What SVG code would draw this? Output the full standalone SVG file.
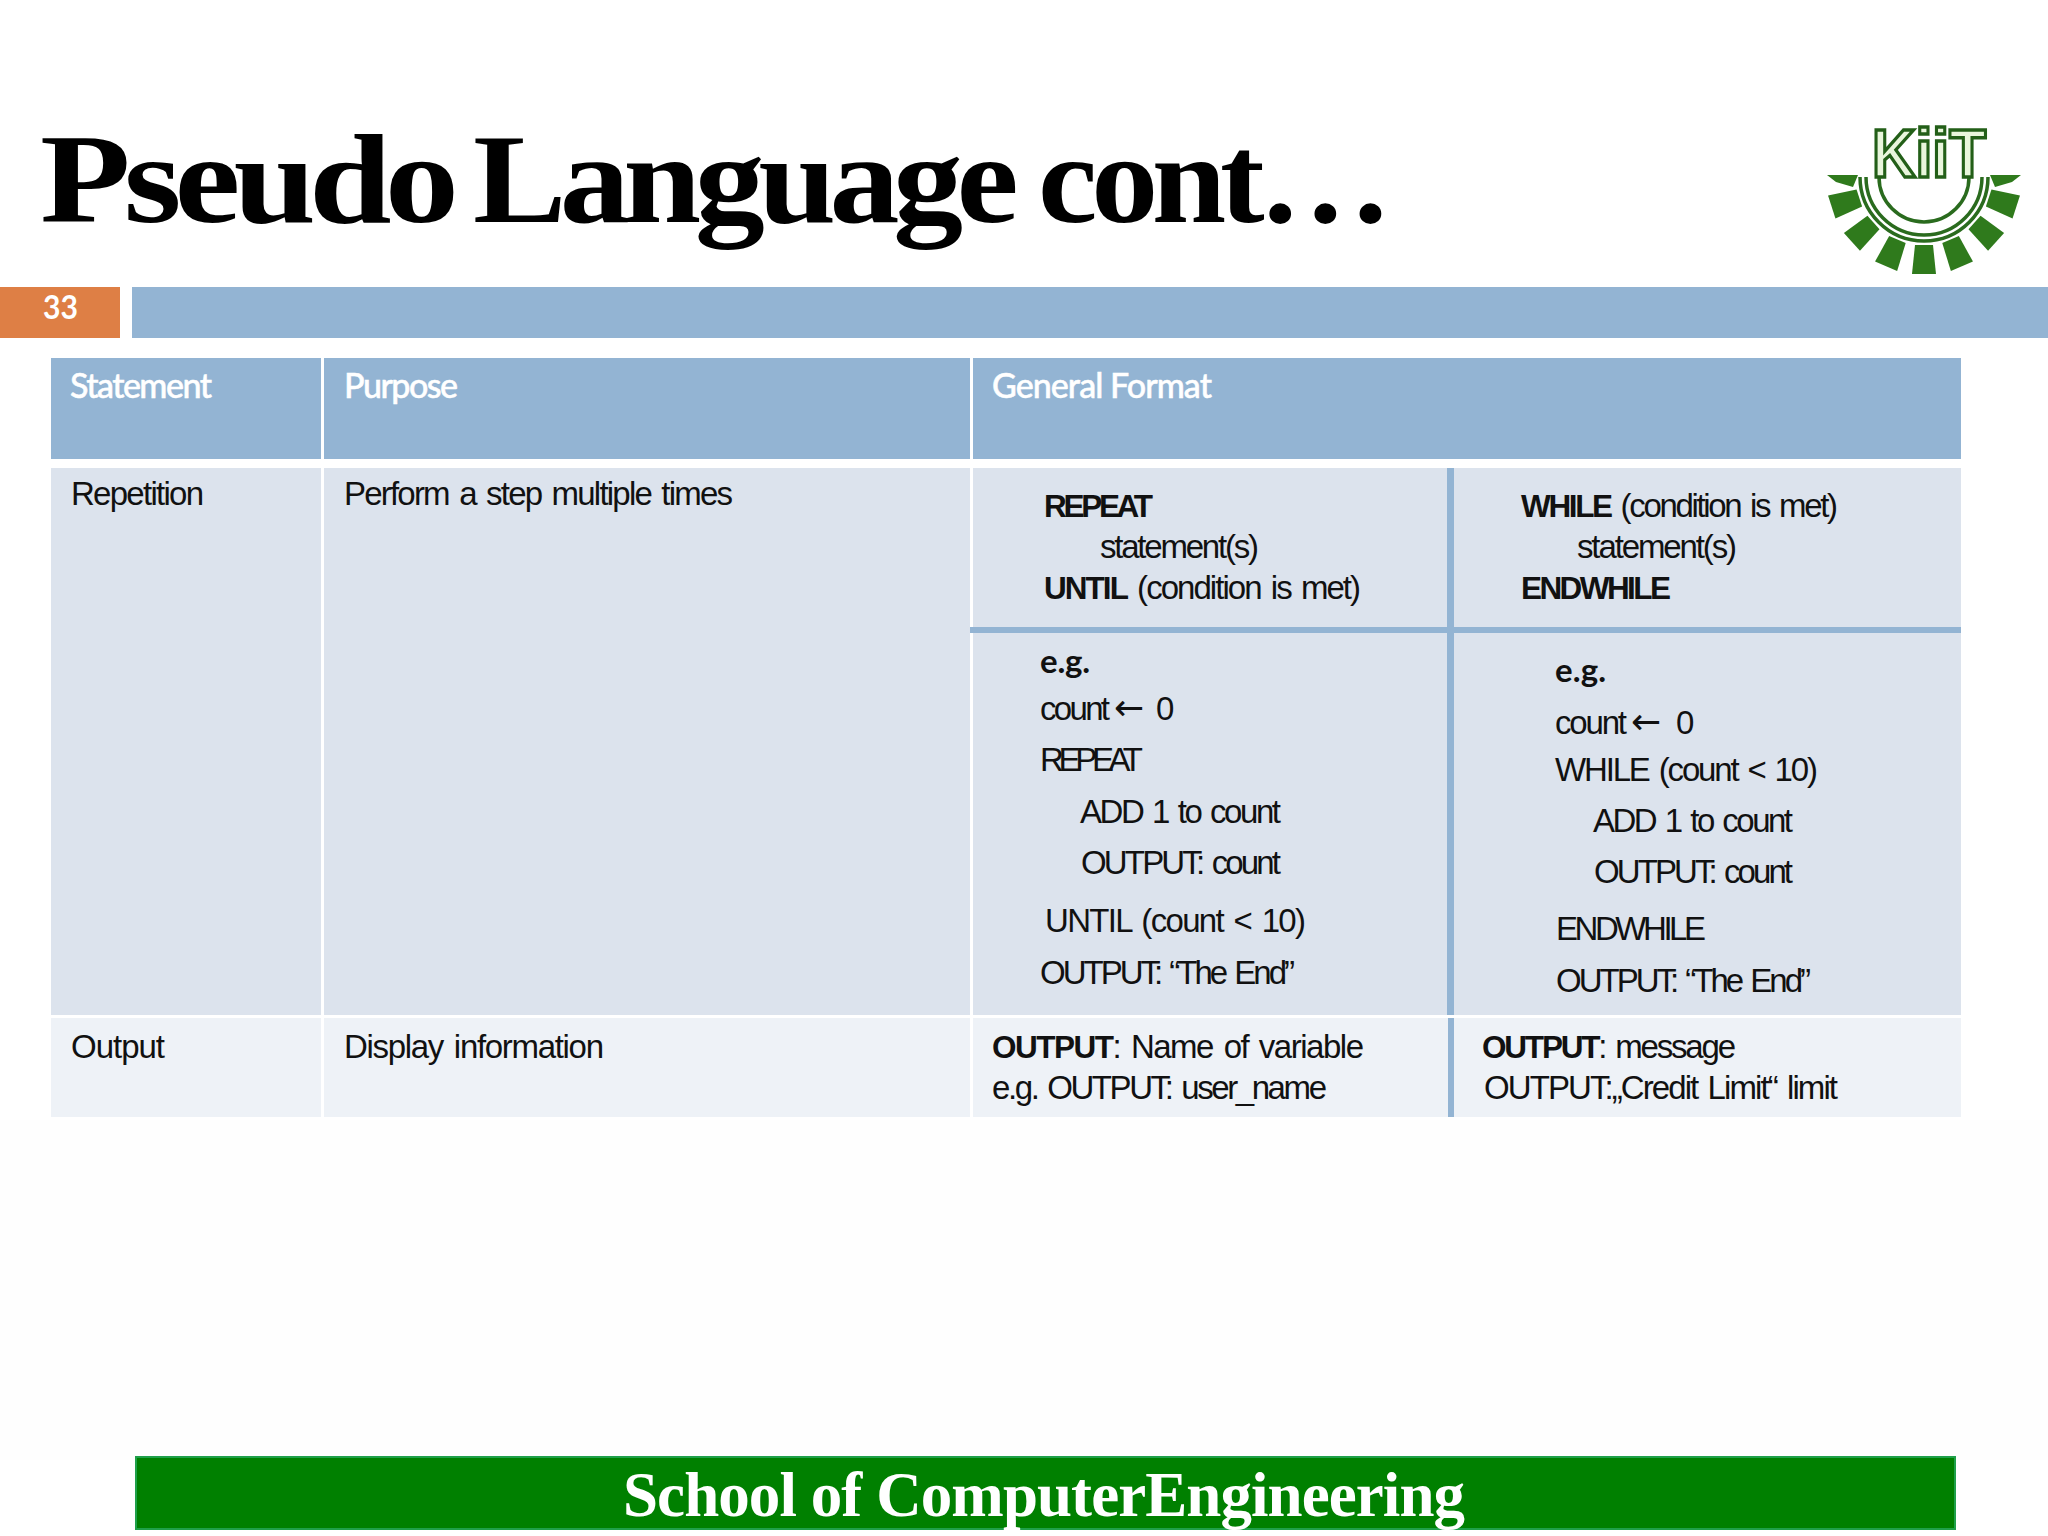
<svg xmlns="http://www.w3.org/2000/svg" width="2048" height="1536" viewBox="0 0 2048 1536">
<style>
.s{font-family:"Liberation Sans",Arial,sans-serif;font-size:33px;fill:#111;word-spacing:3px}
.b{font-weight:bold;font-size:31.5px}
.h{font-family:Lato,"Open Sans",sans-serif;font-size:34px;fill:#fff;font-weight:500;stroke:#fff;stroke-width:.5px}
.e{font-family:Lato,"Open Sans",sans-serif;font-size:33px;font-weight:bold;fill:#111}
.ar{font-family:"DejaVu Sans",sans-serif;font-size:36px;fill:#111}
.t{font-family:"Liberation Serif",serif;font-weight:bold;font-size:128px;fill:#000;letter-spacing:-6px}
.hd{fill:#93b4d3}.r1{fill:#dce3ed}.r2{fill:#eef2f7}
.g{fill:#2f7a1c}
.arc{fill:none;stroke:#2a6b1e;stroke-width:3.5}
</style>
<defs><polygon id="ray" class="g" points="-68,-9 -97,-12 -97,12 -68,9"/></defs>
<rect width="2048" height="1536" fill="#fff"/>
<rect y="1120" width="2048" height="340" fill="#fefefe"/>
<g id="title">
<text class="t" x="40" y="222" textLength="412" lengthAdjust="spacingAndGlyphs">Pseudo</text>
<text class="t" x="473" y="222" textLength="539" lengthAdjust="spacingAndGlyphs">Language</text>
<text class="t" x="1038" y="222" textLength="348" lengthAdjust="spacingAndGlyphs">cont…</text>
</g>
<g id="logo">
<use href="#ray" transform="translate(1924,177) rotate(-18)"/>
<use href="#ray" transform="translate(1924,177) rotate(-42)"/>
<use href="#ray" transform="translate(1924,177) rotate(-67)"/>
<use href="#ray" transform="translate(1924,177) rotate(-90)"/>
<use href="#ray" transform="translate(1924,177) rotate(-113)"/>
<use href="#ray" transform="translate(1924,177) rotate(-138)"/>
<use href="#ray" transform="translate(1924,177) rotate(-162)"/>
<polygon class="g" points="1827,175 1858,175 1853,187 1836,182"/>
<polygon class="g" points="2021,175 1990,175 1995,187 2012,182"/>
<path class="arc" d="M1879,177 A45,45 0 0 0 1969,177"/>
<path class="arc" d="M1866,177 A58,58 0 0 0 1982,177"/>
<path class="arc" d="M1860,177 A64,64 0 0 0 1988,177"/>
<text x="1872" y="177" font-family="Liberation Sans,sans-serif" font-weight="bold" font-size="68" fill="#e9f6dc" stroke="#235f18" stroke-width="3.5" textLength="114" lengthAdjust="spacingAndGlyphs">KiiT</text>
</g>
<g id="page-bar">
<rect y="287" width="120" height="51" fill="#de7f45"/>
<rect x="132" y="287" width="1916" height="51" fill="#93b4d3"/>
<text x="43" y="319" font-family="Lato,sans-serif" font-weight="bold" font-size="33" fill="#fff" textLength="35" lengthAdjust="spacingAndGlyphs">33</text>
</g>
<g id="table">
<rect class="hd" x="51" y="358" width="270" height="101"/>
<rect class="hd" x="324" y="358" width="646" height="101"/>
<rect class="hd" x="973" y="358" width="988" height="101"/>
<rect class="r1" x="51" y="468" width="270" height="547"/>
<rect class="r1" x="324" y="468" width="646" height="547"/>
<rect class="r1" x="973" y="468" width="988" height="547"/>
<rect class="r2" x="51" y="1018" width="270" height="99"/>
<rect class="r2" x="324" y="1018" width="646" height="99"/>
<rect class="r2" x="973" y="1018" width="988" height="99"/>
<rect class="hd" x="970" y="627" width="991" height="6"/>
<rect class="hd" x="1447" y="468" width="7" height="547"/>
<rect class="hd" x="1448" y="1018" width="6" height="99"/>
</g>
<g id="table-text">
<text class="h" x="70" y="398" textLength="142">Statement</text>
<text class="h" x="344" y="398" textLength="114">Purpose</text>
<text class="h" x="992" y="398" textLength="220">General Format</text>
<text class="s" x="71" y="505" textLength="133">Repetition</text>
<text class="s" x="344" y="505" textLength="389">Perform a step multiple times</text>
<text class="s b" x="1044" y="517" textLength="109">REPEAT</text>
<text class="s" x="1100" y="558" textLength="159">statement(s)</text>
<text class="s" x="1044" y="599" textLength="317"><tspan class="b">UNTIL</tspan> (condition is met)</text>
<text class="s" x="1521" y="517" textLength="317"><tspan class="b">WHILE</tspan> (condition is met)</text>
<text class="s" x="1577" y="558" textLength="160">statement(s)</text>
<text class="s b" x="1521" y="599" textLength="150">ENDWHILE</text>
<text class="e" x="1040" y="673" textLength="50">e.g.</text>
<text class="s" x="1040" y="720" textLength="70">count</text><text class="ar" x="1114" y="720">←</text><text class="s" x="1156" y="720">0</text>
<text class="s" x="1040" y="771" textLength="103">REPEAT</text>
<text class="s" x="1080" y="823" textLength="201">ADD 1 to count</text>
<text class="s" x="1081" y="874" textLength="200">OUTPUT: count</text>
<text class="s" x="1045" y="932" textLength="261">UNTIL (count &lt; 10)</text>
<text class="s" x="1040" y="984" textLength="255">OUTPUT: “The End”</text>
<text class="e" x="1555" y="682" textLength="51">e.g.</text>
<text class="s" x="1555" y="734" textLength="72">count</text><text class="ar" x="1631" y="734">←</text><text class="s" x="1676" y="734">0</text>
<text class="s" x="1555" y="781" textLength="263">WHILE (count &lt; 10)</text>
<text class="s" x="1593" y="832" textLength="200">ADD 1 to count</text>
<text class="s" x="1594" y="883" textLength="199">OUTPUT: count</text>
<text class="s" x="1556" y="940" textLength="150">ENDWHILE</text>
<text class="s" x="1556" y="992" textLength="255">OUTPUT: “The End”</text>
<text class="s" x="71" y="1058" textLength="94">Output</text>
<text class="s" x="344" y="1058" textLength="260">Display information</text>
<text class="s" x="992" y="1058" textLength="372"><tspan class="b">OUTPUT</tspan>: Name of variable</text>
<text class="s" x="992" y="1099" textLength="335">e.g. OUTPUT: user_name</text>
<text class="s" x="1482" y="1058" textLength="254"><tspan class="b">OUTPUT</tspan>: message</text>
<text class="s" x="1484" y="1099" textLength="354">OUTPUT:„Credit Limit“ limit</text>
</g>
<g id="footer">
<rect x="136" y="1457" width="1819" height="72" fill="#008000" stroke="#1fa04a" stroke-width="2"/>
<text x="623" y="1516" font-family="Liberation Serif,serif" font-weight="bold" font-size="63" fill="#fff" textLength="842">School of ComputerEngineering</text>
</g>
</svg>
